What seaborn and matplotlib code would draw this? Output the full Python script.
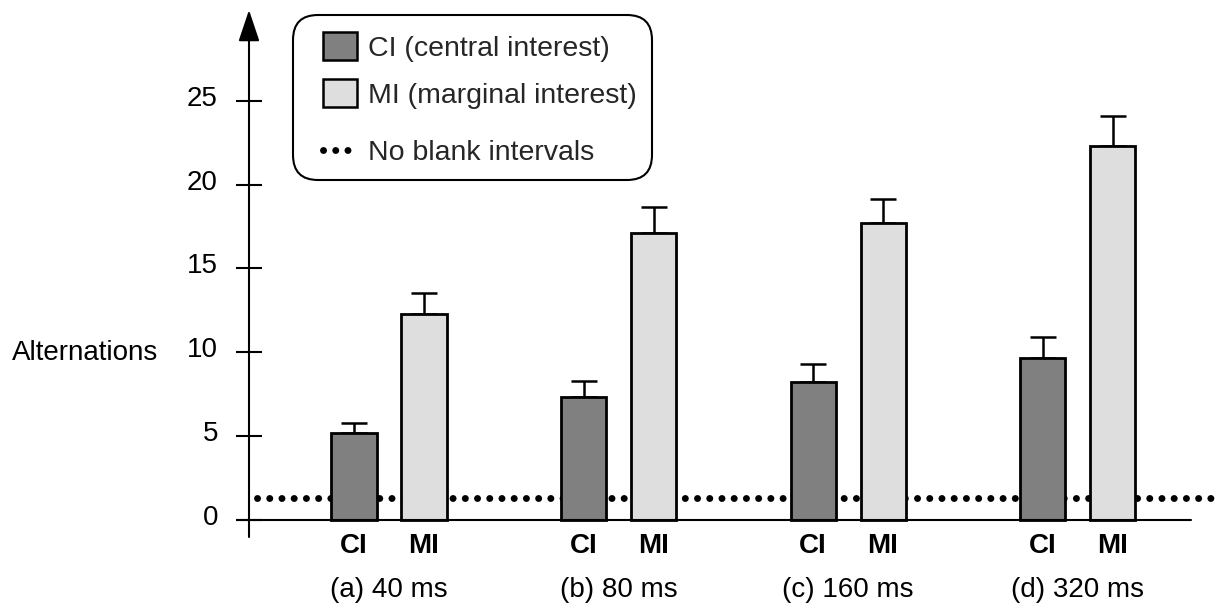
import matplotlib
matplotlib.use("Agg")
import matplotlib.pyplot as plt
import pandas as pd
import seaborn as sns
from matplotlib.patches import Patch, FancyBboxPatch
from matplotlib.lines import Line2D
from matplotlib.transforms import ScaledTranslation, IdentityTransform, blended_transform_factory

# ---- data -------------------------------------------------------------
durations = ["(a) 40 ms", "(b) 80 ms", "(c) 160 ms", "(d) 320 ms"]
conditions = ["CI", "MI"]
ci_means = [5.15, 7.34, 8.23, 9.67]
ci_errors = [0.60, 0.95, 1.06, 1.24]
mi_means = [12.26, 17.10, 17.73, 22.33]
mi_errors = [1.29, 1.59, 1.43, 1.78]
no_blank_level = 1.27
y_ticks = [0, 5, 10, 15, 20, 25]
legend_labels = ["CI (central interest)", "MI (marginal interest)", "No blank intervals"]

ci_color = "#808080"
mi_color = "#dedede"

df = pd.DataFrame({
    "duration": durations * 2,
    "condition": ["CI"] * len(durations) + ["MI"] * len(durations),
    "alternations": ci_means + mi_means,
    "error": ci_errors + mi_errors,
})

# ---- style ------------------------------------------------------------
sns.set_style("white")
plt.rcParams["font.family"] = ["Liberation Sans", "DejaVu Sans"]
FS = 20
LEG_FS = 20.5
W, H = 1221, 605

fig = plt.figure(figsize=(W / 100, H / 100), dpi=100)
ax = fig.add_axes([249 / W, (H - 537) / H, 966 / W, 527 / H])

sns.barplot(
    data=df, x="duration", y="alternations", hue="condition",
    order=durations, hue_order=conditions,
    palette={"CI": ci_color, "MI": mi_color},
    width=0.61, gap=0.357, edgecolor="black", linewidth=2.0,
    errorbar=None, legend=False, ax=ax, zorder=2,
)

ax.set_xlim(-0.610, 3.599)
ax.set_ylim(-1.045, 30.44)
for sp in ax.spines.values():
    sp.set_visible(False)

# bar centres per condition, in category order
trans_lab = blended_transform_factory(ax.transData, ax.transAxes)
for container, cond in zip(ax.containers, conditions):
    bars = sorted(container.patches, key=lambda p: p.get_x())
    sub = df[df["condition"] == cond].set_index("duration").loc[durations]
    xs = [b.get_x() + b.get_width() / 2 for b in bars]
    ax.errorbar(xs, sub["alternations"].values,
                yerr=[[0] * len(xs), sub["error"].values],
                fmt="none", ecolor="black", elinewidth=1.8,
                capsize=9.4, capthick=1.8, zorder=1.5)
    for x in xs:
        ax.text(x, -0.0304, cond, transform=trans_lab, ha="center",
                va="baseline", fontsize=FS, fontweight="bold", color="black")

# reference level without blank intervals
DOTS = (0, (0.01, 1.75))
ax.axhline(no_blank_level, xmin=0.0083, xmax=0.997, color="black", lw=5,
           ls=DOTS, dash_capstyle="round", zorder=1)

# x axis line and y axis arrow
ax.axhline(0, xmin=-0.0124, xmax=0.9752, color="black", lw=1.5,
           clip_on=False, zorder=3)
ax.annotate("", xy=(0, 1), xycoords="axes fraction", xytext=(0, 0),
            textcoords="axes fraction",
            arrowprops=dict(arrowstyle="-|>,head_length=19.4,head_width=6.5",
                            mutation_scale=1, color="black", lw=1.5,
                            shrinkA=0, shrinkB=0),
            annotation_clip=False)

ax.set_yticks(y_ticks)
ax.tick_params(axis="y", left=True, direction="inout", length=18.7, width=1.5,
               pad=13, labelsize=FS, labelcolor="black", color="black")
ax.tick_params(axis="x", bottom=False, length=0, pad=29, labelsize=FS,
               labelcolor="black")
ax.set_xlabel("")
ax.set_ylabel("Alternations", rotation=0, ha="center", va="center",
              fontsize=FS, color="black")
ax.yaxis.set_label_coords(-0.1698, 0.349)

lift = ScaledTranslation(0, 5 / 100, fig.dpi_scale_trans)
for tick in ax.yaxis.get_major_ticks():
    tick.label1.set_transform(tick.label1.get_transform() + lift)

# ---- legend in a rounded box -----------------------------------------
box = FancyBboxPatch((293, H - 180), 359, 165,
                     boxstyle="round,pad=0,rounding_size=25",
                     transform=IdentityTransform(), fc="white", ec="black",
                     lw=1.5, zorder=5)
fig.add_artist(box)

em = LEG_FS * 100 / 72
patch_handles = [
    Patch(facecolor=ci_color, edgecolor="black", linewidth=1.8),
    Patch(facecolor=mi_color, edgecolor="black", linewidth=1.8),
]
leg1 = fig.legend(patch_handles, legend_labels[:2], loc="upper left",
                  bbox_to_anchor=(323 / W, 1 - 32 / H), borderaxespad=0,
                  borderpad=0, frameon=False, fontsize=LEG_FS,
                  handlelength=34 / em, handleheight=33 / em,
                  handletextpad=11 / em, labelspacing=17 / em)
leg1.set_zorder(6)

dot_handle = Line2D([], [], color="black", lw=5, ls=DOTS,
                    dash_capstyle="round")
leg2 = fig.legend([dot_handle], legend_labels[2:], loc="center left",
                  bbox_to_anchor=(323 / W, 1 - 153 / H), borderaxespad=0,
                  borderpad=0, frameon=False, fontsize=LEG_FS,
                  handlelength=34 / em, handletextpad=11 / em)
leg2.set_zorder(6)

fig.savefig("out.png", dpi=100)
